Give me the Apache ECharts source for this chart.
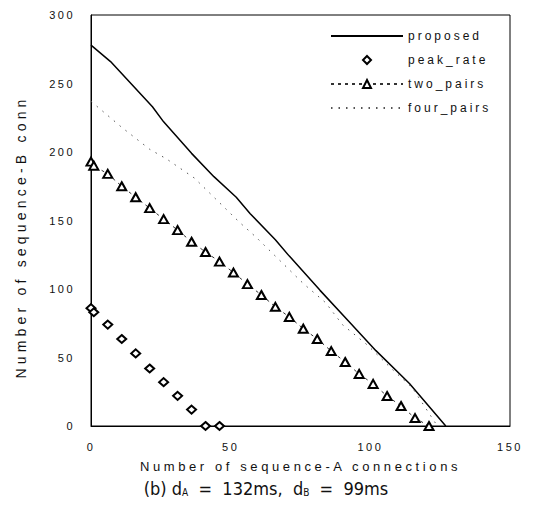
<!DOCTYPE html>
<html>
<head>
<meta charset="utf-8">
<script src="https://cdn.jsdelivr.net/npm/echarts@6/dist/echarts.min.js"></script>
<style>
  html, body { margin: 0; padding: 0; background: #fff; }
  #chart { width: 534px; height: 509px; }
  /* the scanned figure uses wide letter spacing */
  #chart text[style*="11px"] { letter-spacing: 2.5px; }
  #chart text[style*="12px"] { letter-spacing: 3px; }
  #chart text[style*="13px"] { letter-spacing: 3.6px; }
  #chart text[style*="14px"] { letter-spacing: 4.2px; }
</style>
</head>
<body>
<div id="chart"></div>
<script>
// values
const proposedX = [0, 7, 22, 26, 36, 44, 52, 57, 66, 71, 82, 92, 102, 114, 127];
const proposedY = [278, 266, 233, 222, 199, 182, 167, 155, 136, 124, 99, 77, 55, 31, 0];

const peakRateX = [0, 1, 6, 11, 16, 21, 26, 31, 36, 41, 46];
const peakRateY = [86, 83, 74, 63.5, 53, 42, 32, 22, 12, 0, 0];

const twoPairsX = [0, 1, 6, 11, 16, 21, 26, 31, 36, 41, 46, 51, 56, 61, 66, 71, 76, 81, 86, 91, 96, 101, 106, 111, 116, 121];
const twoPairsY = [193, 190, 184, 175, 167, 159, 151, 143, 134.5, 127, 120, 112, 103.6, 95.6, 87, 79.6, 71, 63.5, 54.7, 46.7, 38, 30.7, 21.9, 14.6, 5.8, 0];

const fourPairsX = [0, 11, 21, 27, 37, 45, 53, 59, 68, 76, 84, 90, 99, 108, 115, 124];
const fourPairsY = [237, 218, 202, 195, 181, 165, 149, 138, 120, 104, 90, 74, 59, 41, 28, 0];

const seriesNames = ['proposed', 'peak_rate', 'two_pairs', 'four_pairs'];
const xTicks = [0, 50, 100, 150];
const yTicks = [0, 50, 100, 150, 200, 250, 300];

const xName = 'Number of sequence-A connections';
const yName = 'Number of sequence-B conn';

function pairs(xs, ys) {
  return xs.map(function (x, i) { return [x, ys[i]]; });
}

let myChart = echarts.init(document.getElementById('chart'), null, { renderer: 'svg' });

let font = 'Arial, "Liberation Sans", sans-serif';
let narrow = '"Liberation Sans Narrow", "DejaVu Sans Condensed", sans-serif';

let option = {
  animation: false,
  backgroundColor: '#fff',
  grid: {
    left: 91, right: 24, top: 15, bottom: 83,
    show: true, borderColor: '#000', borderWidth: 1
  },
  legend: {
    // line-only entries get an invisible marker, like the original key
    data: [
      { name: seriesNames[0], itemStyle: { opacity: 0 } },
      { name: seriesNames[1] },
      { name: seriesNames[2] },
      { name: seriesNames[3], itemStyle: { opacity: 0 } }
    ],
    orient: 'vertical',
    left: 330,
    top: 30,
    padding: 0,
    itemWidth: 72,
    itemHeight: 10,
    itemGap: 12,
    textStyle: { fontFamily: font, fontSize: 12, color: '#111' }
  },
  xAxis: {
    type: 'value',
    min: xTicks[0],
    max: xTicks[xTicks.length - 1],
    interval: 50,
    name: xName,
    nameLocation: 'middle',
    nameGap: 34,
    nameTextStyle: { fontFamily: font, fontSize: 13, color: '#111' },
    axisLine: { lineStyle: { color: '#000', width: 1 } },
    axisTick: { show: false },
    splitLine: { show: false },
    axisLabel: { margin: 15, fontFamily: font, fontSize: 11, color: '#111' }
  },
  yAxis: {
    type: 'value',
    min: yTicks[0],
    max: yTicks[yTicks.length - 1],
    interval: 50,
    axisLine: { show: true, lineStyle: { color: '#000', width: 1 } },
    axisTick: { show: false },
    splitLine: { show: false },
    axisLabel: { margin: 16, fontFamily: font, fontSize: 11, color: '#111' }
  },
  graphic: [
    {
      type: 'text',
      x: 21, y: 237,
      rotation: Math.PI / 2,
      style: {
        text: yName,
        font: '14px ' + font,
        fill: '#111',
        align: 'center',
        verticalAlign: 'middle'
      }
    },
    {
      type: 'text',
      x: 266, y: 488,
      style: {
        text: '(b) d{s|A}  =  132ms,  d{s|B}  =  99ms',
        fontFamily: narrow,
        fontSize: 18,
        fill: '#111',
        align: 'center',
        verticalAlign: 'middle',
        rich: {
          s: { fontSize: 10, fill: '#111', padding: [8, 0, 0, 0], fontFamily: narrow }
        }
      }
    }
  ],
  series: [
    {
      name: seriesNames[0],
      type: 'line',
      data: pairs(proposedX, proposedY),
      symbol: 'none',
      clip: false,
      lineStyle: { color: '#000', width: 1.5 },
      itemStyle: { color: '#000' }
    },
    {
      name: seriesNames[1],
      type: 'line',
      data: pairs(peakRateX, peakRateY),
      symbol: 'emptyDiamond',
      symbolSize: [9, 8],
      showAllSymbol: true,
      clip: false,
      lineStyle: { width: 0, opacity: 0 },
      itemStyle: { color: '#000', borderWidth: 1.6 }
    },
    {
      name: seriesNames[2],
      type: 'line',
      data: pairs(twoPairsX, twoPairsY),
      symbol: 'emptyTriangle',
      symbolSize: [9, 8],
      showAllSymbol: true,
      clip: false,
      lineStyle: { color: '#333', width: 1, type: [3, 4] },
      itemStyle: { color: '#000', borderWidth: 1.6 }
    },
    {
      name: seriesNames[3],
      type: 'line',
      data: pairs(fourPairsX, fourPairsY),
      symbol: 'none',
      clip: false,
      lineStyle: { color: '#555', width: 1, type: [1.5, 6] },
      itemStyle: { color: '#555' }
    }
  ]
};

myChart.setOption(option);
</script>
</body>
</html>
